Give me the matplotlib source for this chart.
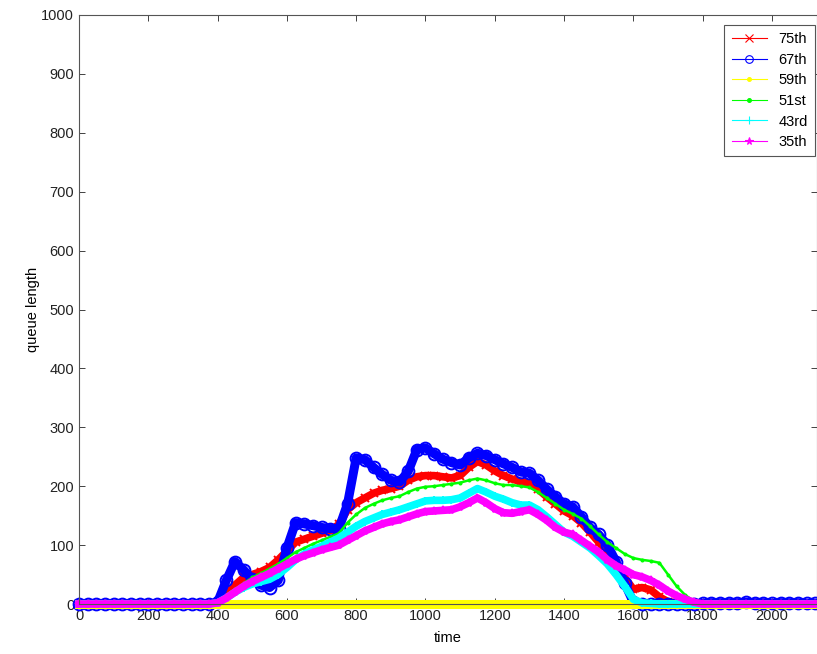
import matplotlib
matplotlib.use("Agg")
import matplotlib.pyplot as plt
from matplotlib.lines import Line2D

plt.rcParams['font.family'] = ['Liberation Sans', 'DejaVu Sans']

# sample times (every 25 time units)
time = list(range(0, 2126, 25))

labels = ['75th', '67th', '59th', '51st', '43rd', '35th']

z16 = [0] * 16  # nothing happens before t=400

q75 = z16 + [3, 18, 32, 45, 50, 55, 62, 75, 90, 105, 110, 115, 120, 125, 135,
             160, 172, 180, 188, 193, 196, 200, 210, 216, 218, 218, 216, 214, 218, 232,
             242, 236, 226, 218, 212, 208, 205, 195, 182, 170, 158, 150, 138, 122, 105,
             88, 68, 45, 25] + \
    [28, 24, 12, 4, 1, 0, 0, 0, 0, 0, 0, 0, 0, 0, 0, 0, 0, 0, 0, 0, 0]

q67 = z16 + [3, 40, 72, 58, 42, 32, 28, 40, 95, 138, 136, 133, 130, 128, 128,
             170, 248, 245, 232, 220, 210, 207, 225, 262, 265, 255, 246, 240, 236, 248,
             256, 252, 245, 238, 232, 224, 222, 210, 195, 182, 170, 165, 148, 130, 118,
             100, 72, 35, 3] + \
    [0, 0, 0, 0, 0, 0, 0, 1, 2, 2, 2, 2, 3, 2, 2, 1, 2, 2, 2, 1, 1]

q59 = [0] * len(time)

q51 = z16 + [2, 12, 25, 35, 45, 52, 60, 68, 78, 88, 95, 102, 108, 114, 120,
             138, 152, 163, 170, 176, 180, 183, 190, 196, 199, 200, 202, 204, 206, 210,
             213, 210, 205, 202, 202, 200, 198, 190, 180, 170, 160, 153, 145, 132, 118,
             105, 95, 85, 78] + \
    [75, 73, 70, 50, 30, 15, 5, 0, 0, 0, 0, 0, 0, 0, 0, 0, 0, 0, 0, 0, 0]

q43 = z16 + [2, 10, 20, 28, 34, 38, 42, 50, 62, 75, 85, 92, 98, 105, 112,
             122, 132, 140, 146, 152, 156, 160, 165, 170, 175, 176, 176, 177, 180, 188,
             196, 190, 183, 178, 172, 168, 168, 160, 148, 135, 122, 115, 105, 95, 82,
             68, 50, 30, 8] + \
    [2, 1, 0, 0, 0, 0, 0, 0, 0, 0, 0, 0, 0, 0, 0, 0, 0, 0, 0, 0, 0]

q35 = z16 + [2, 10, 20, 30, 38, 45, 52, 60, 68, 76, 82, 87, 92, 96, 100,
             108, 116, 124, 130, 136, 140, 143, 148, 153, 157, 158, 159, 160, 165, 172,
             180, 172, 162, 155, 154, 157, 160, 152, 142, 130, 122, 118, 108, 98, 88,
             75, 65, 58, 50] + \
    [46, 40, 32, 22, 14, 8, 3, 0, 0, 0, 0, 0, 0, 0, 0, 0, 0, 0, 0, 0, 0]

series = [q75, q67, q59, q51, q43, q35]
colors = ['#ff0000', '#0000ff', '#ffff00', '#00ff00', '#00ffff', '#ff00ff']
markers = ['x', 'o', '.', '.', '+', '*']
band = [5.5, 6.5, 6.5, 1.8, 5.5, 5.5]
msize = [6, 8.5, 6, 3, 6, 6]

fig = plt.figure(figsize=(8.17, 6.54), dpi=100)
ax = fig.add_axes([79 / 817, 50 / 654, 738 / 817, 589 / 654])

for vals, c, m, w, s in zip(series, colors, markers, band, msize):
    ax.plot(time, vals, color=c, lw=w, marker=m, ms=s,
            mfc='none' if m == 'o' else c, mec=c, mew=1.4, clip_on=False)

ax.set_xlim(0, 2130)
ax.set_ylim(0, 1000)
ax.set_xticks(range(0, 2001, 200))
ax.set_yticks(range(0, 1001, 100))
ax.tick_params(direction='in', top=True, right=True, length=4,
               labelsize=10.5, colors='#222222', width=0.6)
for sp in ax.spines.values():
    sp.set_color('#555555')
    sp.set_linewidth(0.8)
ax.set_xlabel('time', fontsize=10.5, labelpad=6)
ax.set_ylabel('queue length', fontsize=10.5, labelpad=1)

handles = [Line2D([], [], color=c, marker=m, ms=5.5, lw=0.8,
                  mfc='none' if m == 'o' else c, mec=c, mew=0.8)
           for c, m in zip(colors, markers)]
leg = ax.legend(handles, labels, loc='upper right',
                bbox_to_anchor=(815 / 817, 1 - 25 / 654),
                bbox_transform=fig.transFigure, borderaxespad=0,
                fontsize=10.5, fancybox=False, framealpha=1,
                handlelength=2.4, labelspacing=0.45, borderpad=0.5)
leg.get_frame().set_edgecolor('#555555')
leg.get_frame().set_linewidth(0.8)

fig.savefig('out.png', dpi=100)
